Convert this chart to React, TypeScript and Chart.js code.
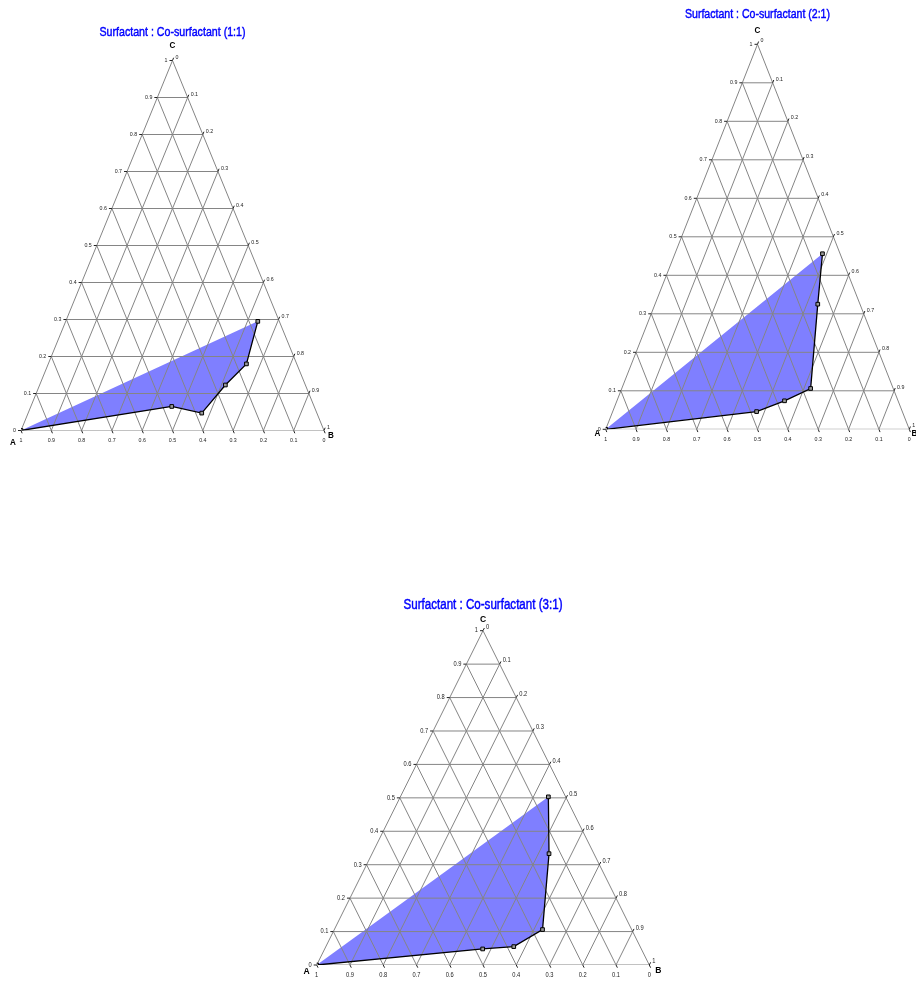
import React, { useEffect, useRef } from "react";
import { Chart, registerables } from "chart.js";

Chart.register(...registerables);

// ---------- data ----------
const TITLES = [
  "Surfactant : Co-surfactant (1:1)",
  "Surfactant : Co-surfactant (2:1)",
  "Surfactant : Co-surfactant (3:1)",
];
const VERTEX_LABELS = ["A", "B", "C"];
const GRID_STEPS = [0.1, 0.2, 0.3, 0.4, 0.5, 0.6, 0.7, 0.8, 0.9];
const TICK_VALUES = [0, 0.1, 0.2, 0.3, 0.4, 0.5, 0.6, 0.7, 0.8, 0.9, 1];
const TICK_LABELS = ["0", "0.1", "0.2", "0.3", "0.4", "0.5", "0.6", "0.7", "0.8", "0.9", "1"];

// ternary compositions of the boundary points (A, B, C fractions)
const ratio11A = [1, 0.47, 0.38, 0.264, 0.166, 0.071];
const ratio11B = [0, 0.465, 0.573, 0.613, 0.654, 0.634];
const ratio11C = [0, 0.065, 0.047, 0.123, 0.18, 0.295];

const ratio21A = [1, 0.48, 0.374, 0.272, 0.139, 0.058];
const ratio21B = [0, 0.474, 0.552, 0.622, 0.536, 0.486];
const ratio21C = [0, 0.046, 0.074, 0.106, 0.325, 0.456];

const ratio31A = [1, 0.477, 0.38, 0.268, 0.135, 0.052];
const ratio31B = [0, 0.475, 0.565, 0.626, 0.532, 0.445];
const ratio31C = [0, 0.048, 0.055, 0.106, 0.333, 0.503];

// ---------- layout (page pixels) ----------
type Layout = {
  left: number; top: number; width: number; height: number;
  pad: { left: number; right: number; top: number; bottom: number };
  titleDy: number; titleWidth: number; titleSize: number;
  tickSize: number; vertexSize: number;
  aOff: [number, number]; bOff: [number, number]; cOff: [number, number];
};

const LAYOUTS: Layout[] = [
  {
    left: 0, top: 18, width: 345, height: 432,
    pad: { left: 21, right: 21, top: 42.5, bottom: 19.5 },
    titleDy: -28.2, titleWidth: 146, titleSize: 13, tickSize: 6, vertexSize: 9,
    aOff: [-8, 12], bOff: [7, 5], cOff: [0, -14.5],
  },
  {
    left: 575, top: 0, width: 341, height: 450,
    pad: { left: 30.7, right: 6.7, top: 44.3, bottom: 20.7 },
    titleDy: -30.3, titleWidth: 145, titleSize: 13, tickSize: 6, vertexSize: 9,
    aOff: [-8.4, 4], bOff: [5, 4], cOff: [0, -13.6],
  },
  {
    left: 290, top: 585, width: 380, height: 396,
    pad: { left: 26.7, right: 20.7, top: 45.7, bottom: 16 },
    titleDy: -25.7, titleWidth: 159, titleSize: 14, tickSize: 6.5, vertexSize: 9.5,
    aOff: [-10, 6.7], bOff: [9, 5], cOff: [0, -11.4],
  },
];

const GRID_COLOR = "#858585";
const FILL_COLOR = "rgba(0, 0, 255, 0.5)";
const SANS = '"Liberation Sans", Arial, sans-serif';
const TICK_SQUEEZE = 0.88;

function toXY(a: number, b: number, c: number) {
  const s = a + b + c;
  return { x: (b + c / 2) / s, y: c / s };
}

function gridDatasets() {
  const sets: any[] = [];
  const seg = (p: any, q: any) => ({
    data: [p, q],
    borderColor: GRID_COLOR,
    borderWidth: 1,
    pointRadius: 0,
    fill: false,
    order: 2,
  });
  GRID_STEPS.forEach((v) => {
    sets.push(seg({ x: v / 2, y: v }, { x: 1 - v / 2, y: v }));
    sets.push(seg({ x: 1 - v, y: 0 }, { x: (1 - v) / 2, y: 1 - v }));
    sets.push(seg({ x: v, y: 0 }, { x: (1 + v) / 2, y: 1 - v }));
  });
  sets.push(seg({ x: 0, y: 0 }, { x: 1, y: 0 }));
  sets.push(seg({ x: 0, y: 0 }, { x: 0.5, y: 1 }));
  sets.push(seg({ x: 1, y: 0 }, { x: 0.5, y: 1 }));
  return sets;
}

function squeezed(ctx: CanvasRenderingContext2D, text: string, x: number, y: number, sx: number) {
  ctx.save();
  ctx.translate(x, y);
  ctx.scale(sx, 1);
  ctx.fillText(text, 0, 0);
  ctx.restore();
}

function makeTextPlugin(title: string, L: Layout) {
  return {
    id: "ternaryText",
    afterDraw(chart: any) {
      const ctx = chart.ctx as CanvasRenderingContext2D;
      const xs = chart.scales.x;
      const ys = chart.scales.y;
      const P = (x: number, y: number) => [xs.getPixelForValue(x), ys.getPixelForValue(y)];
      const [ax, ay] = P(0, 0);
      const [bx, by] = P(1, 0);
      const [cx, cy] = P(0.5, 1);
      const norm = (dx: number, dy: number) => {
        const l = Math.hypot(dx, dy);
        return [dx / l, dy / l];
      };
      const up = norm(cx - ax, cy - ay);
      const down = norm(bx - cx, by - cy);
      const T = 3;
      ctx.save();
      // tick marks
      ctx.strokeStyle = "#222";
      ctx.lineWidth = 1;
      ctx.beginPath();
      TICK_VALUES.forEach((v) => {
        const [lx, ly] = P(v / 2, v);
        ctx.moveTo(lx, ly);
        ctx.lineTo(lx - T, ly);
        const [rx, ry] = P((1 + v) / 2, 1 - v);
        ctx.moveTo(rx, ry);
        ctx.lineTo(rx + up[0] * T, ry + up[1] * T);
        const [dx, dy] = P(1 - v, 0);
        ctx.moveTo(dx, dy);
        ctx.lineTo(dx + down[0] * T, dy + down[1] * T);
      });
      ctx.stroke();
      // tick labels
      ctx.fillStyle = "#222";
      ctx.font = `${L.tickSize}px ${SANS}`;
      ctx.textBaseline = "middle";
      TICK_VALUES.forEach((v, i) => {
        const lab = TICK_LABELS[i];
        const [lx, ly] = P(v / 2, v);
        ctx.textAlign = "right";
        squeezed(ctx, lab, lx - 5, ly, TICK_SQUEEZE);
        const [rx, ry] = P((1 + v) / 2, 1 - v);
        ctx.textAlign = "left";
        squeezed(ctx, lab, rx + 3, ry - 3.5, TICK_SQUEEZE);
        const [dx, dy] = P(1 - v, 0);
        ctx.textAlign = "center";
        squeezed(ctx, lab, dx, dy + 10, TICK_SQUEEZE);
      });
      // vertex labels
      ctx.fillStyle = "#000";
      ctx.font = `bold ${L.vertexSize}px ${SANS}`;
      ctx.textAlign = "center";
      ctx.textBaseline = "middle";
      squeezed(ctx, VERTEX_LABELS[0], ax + L.aOff[0], ay + L.aOff[1], 0.9);
      squeezed(ctx, VERTEX_LABELS[1], bx + L.bOff[0], by + L.bOff[1], 0.9);
      squeezed(ctx, VERTEX_LABELS[2], cx + L.cOff[0], cy + L.cOff[1], 0.9);
      // title
      ctx.fillStyle = "#0000ff";
      ctx.strokeStyle = "#0000ff";
      ctx.lineWidth = 0.45;
      ctx.font = `${L.titleSize}px ${SANS}`;
      const w = ctx.measureText(title).width;
      ctx.translate(cx, cy + L.titleDy);
      ctx.scale(L.titleWidth / w, 1);
      ctx.fillText(title, 0, 0);
      ctx.strokeText(title, 0, 0);
      ctx.restore();
    },
  };
}

function Ternary({ title, A, B, C, L }: { title: string; A: number[]; B: number[]; C: number[]; L: Layout }) {
  const ref = useRef<HTMLCanvasElement | null>(null);
  useEffect(() => {
    if (!ref.current) return;
    const pts = A.map((a, i) => toXY(a, B[i], C[i]));
    const chart = new Chart(ref.current, {
      type: "line",
      data: {
        datasets: [
          {
            data: pts,
            fill: "shape",
            backgroundColor: FILL_COLOR,
            borderWidth: 0,
            borderColor: "rgba(0,0,0,0)",
            pointRadius: 0,
            order: 3,
          } as any,
          ...gridDatasets(),
          {
            data: pts,
            fill: false,
            borderColor: "#000",
            borderWidth: 1.3,
            pointStyle: "rect",
            pointRadius: 2.6,
            pointBorderWidth: 1,
            pointBorderColor: "#000",
            pointBackgroundColor: "#9a9a9a",
            order: 1,
          },
        ],
      },
      options: {
        animation: false,
        responsive: false,
        maintainAspectRatio: false,
        devicePixelRatio: 1,
        layout: { padding: L.pad },
        scales: {
          x: { type: "linear", min: 0, max: 1, display: false },
          y: { type: "linear", min: 0, max: 1, display: false },
        },
        plugins: { legend: { display: false }, tooltip: { enabled: false }, title: { display: false } },
        elements: { line: { tension: 0 } },
      },
      plugins: [makeTextPlugin(title, L)],
    } as any);
    return () => chart.destroy();
  }, [title, A, B, C, L]);
  return (
    <div style={{ position: "absolute", left: L.left, top: L.top, width: L.width, height: L.height }}>
      <canvas ref={ref} width={L.width} height={L.height} style={{ display: "block" }} />
    </div>
  );
}

export default function App() {
  return (
    <div style={{ position: "absolute", left: 0, top: 0, width: 916, height: 981, background: "#fff", overflow: "hidden" }}>
      <Ternary title={TITLES[0]} A={ratio11A} B={ratio11B} C={ratio11C} L={LAYOUTS[0]} />
      <Ternary title={TITLES[1]} A={ratio21A} B={ratio21B} C={ratio21C} L={LAYOUTS[1]} />
      <Ternary title={TITLES[2]} A={ratio31A} B={ratio31B} C={ratio31C} L={LAYOUTS[2]} />
    </div>
  );
}
